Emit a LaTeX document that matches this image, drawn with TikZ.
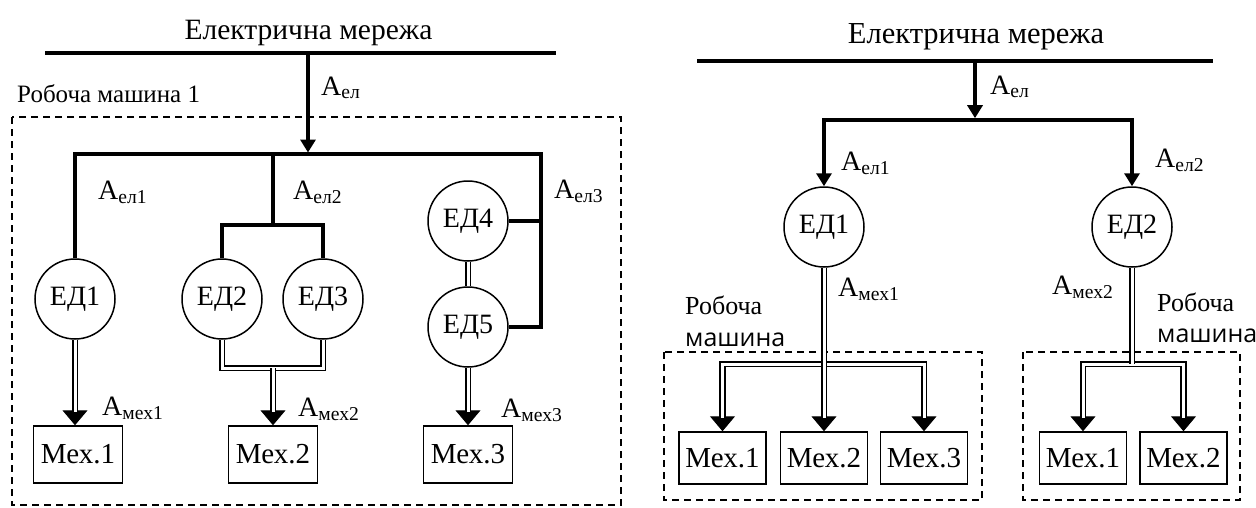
\documentclass[tikz,border=0pt]{standalone}
\usepackage{fontspec}
\setmainfont{Liberation Serif}
\newfontfamily\mashfont{Open Sans}
\usetikzlibrary{arrows.meta}

\begin{document}
\begin{tikzpicture}[x=1pt,y=-1pt]

%
% Styles
%
\tikzstyle{motor} = [circle,draw,line width=1.5pt,minimum size=80pt,inner sep=0pt,font=\fontsize{28}{30}\selectfont]
\tikzstyle{mexbox} = [rectangle,draw,line width=1.5pt,minimum width=89pt,minimum height=57pt,inner sep=0pt,font=\fontsize{29}{31}\selectfont]
\tikzstyle{lbl} = [anchor=base west,inner sep=0pt,font=\fontsize{28}{30}\selectfont]
\tikzstyle{nettitle} = [anchor=base,inner sep=0pt,font=\fontsize{29.5}{32}\selectfont]
\tikzstyle{bus} = [line width=3.6pt]
\tikzstyle{elarrow} = [line width=3.6pt,-{Triangle[width=15pt,length=13pt]}]
\tikzstyle{mech} = [double,line width=1.7pt,double distance=3pt]
\tikzstyle{mechend} = [mech,shorten >=13pt]
\tikzstyle{mtip} = [line width=1pt,-{Triangle[width=25pt,length=15pt]}]
\tikzstyle{machframe} = [dash pattern=on 7pt off 5pt,line width=1.4pt]

\useasboundingbox (0,0) rectangle (1256,507);

%
% Left: one working machine
%
\node[nettitle] (netL) at (308.5,39) {Електрична мережа};
\node[lbl,font=\fontsize{25}{27}\selectfont] (machL) at (17,102) {Робоча машина 1};

\node[motor] (d1) at (75,299)  {ЕД1};
\node[motor] (d2) at (222,299) {ЕД2};
\node[motor] (d3) at (323,299) {ЕД3};
\node[motor] (d4) at (468,221) {ЕД4};
\node[motor] (d5) at (468,327) {ЕД5};
\node[mexbox] (m1) at (78,454.5)  {Мех.1};
\node[mexbox] (m2) at (273,454.5) {Мех.2};
\node[mexbox] (m3) at (468,454.5) {Мех.3};

\node[lbl] (ael)   at (321,95)  {А\textsubscript{ел}};
\node[lbl] (ael1)  at (98,199)  {А\textsubscript{ел1}};
\node[lbl] (ael2)  at (293,199) {А\textsubscript{ел2}};
\node[lbl] (ael3)  at (554,198) {А\textsubscript{ел3}};
\node[lbl] (amex1) at (102,415) {А\textsubscript{мех1}};
\node[lbl] (amex2) at (298,416) {А\textsubscript{мех2}};
\node[lbl] (amex3) at (501,417) {А\textsubscript{мех3}};

\coordinate (netLa) at (45,53);
\coordinate (netLb) at (556,53);
\coordinate (tapL)  at (308,53);
\coordinate (hubL)  at (308,152.5);
\coordinate (cornL) at (541,154);
\coordinate (tapD)  at (273,154);
\coordinate (jD23)  at (273,225);
\coordinate (jM2)   at (273,368);

\draw[machframe] (12,117) rectangle (621,505);

\draw[bus] (netLa) -- (netLb);
\draw[elarrow] (tapL) -- (hubL);
\draw[bus] (d1.north) |- (cornL) |- (d5.east);
\draw[bus] (d4.east) -- (d4.east -| cornL);
\draw[bus] (tapD) -- (jD23);
\draw[bus] (d2.north) |- (jD23) -| (d3.north);

\draw[mtip] (d1.south) -- (d1.south |- m1.north);
\draw[mechend] (d1.south) -- (d1.south |- m1.north);
\draw[mech] (d2.south) |- (jM2) -| (d3.south);
\draw[mtip] (jM2) -- (m2.north);
\draw[mechend] (jM2) -- (m2.north);
\draw[mech] (d4.south) -- (d5.north);
\draw[mtip] (d5.south) -- (m3.north);
\draw[mechend] (d5.south) -- (m3.north);

%
% Right: two working machines
%
\node[nettitle,font=\fontsize{30.5}{33}\selectfont] (netR) at (976,43) {Електрична мережа};

\node[motor] (rd1) at (824,227)  {ЕД1};
\node[motor] (rd2) at (1132,227) {ЕД2};
\node[mexbox,minimum width=87pt,minimum height=52pt] (rm1) at (722.5,458) {Мех.1};
\node[mexbox,minimum width=87pt,minimum height=52pt] (rm2) at (824,458)   {Мех.2};
\node[mexbox,minimum width=87pt,minimum height=52pt] (rm3) at (924,458)   {Мех.3};
\node[mexbox,minimum width=87pt,minimum height=52pt] (rm4) at (1083,458)  {Мех.1};
\node[mexbox,minimum width=87pt,minimum height=52pt] (rm5) at (1183.5,458) {Мех.2};

\node[lbl] (rael)   at (990,94)   {А\textsubscript{ел}};
\node[lbl] (rael1)  at (841,170)  {А\textsubscript{ел1}};
\node[lbl] (rael2)  at (1155,167) {А\textsubscript{ел2}};
\node[lbl] (ramex1) at (838,296)  {А\textsubscript{мех1}};
\node[lbl] (ramex2) at (1052,294) {А\textsubscript{мех2}};

\node[lbl,font=\fontsize{26}{28}\selectfont] (rw1a) at (685,314) {Робоча};
\node[lbl,font=\mashfont\fontsize{25}{27}\selectfont] (rw1b) at (685,346) {машина};
\node[lbl,font=\fontsize{26}{28}\selectfont] (rw2a) at (1157,311) {Робоча};
\node[lbl,font=\mashfont\fontsize{25}{27}\selectfont] (rw2b) at (1157,342) {машина};

\coordinate (netRa) at (697,61);
\coordinate (netRb) at (1213,61);
\coordinate (tapR)  at (975,61);
\coordinate (hubR)  at (975,120);
\coordinate (jR1)   at (824,364);
\coordinate (jR2)   at (1132,364);

\draw[machframe] (664,352) rectangle (982,500);
\draw[machframe] (1023,352) rectangle (1240,500);

\draw[bus] (netRa) -- (netRb);
\draw[elarrow] (tapR) -- ([yshift=1.8pt]hubR);
\draw[elarrow] (hubR) -| (rd1.north);
\draw[elarrow] (hubR) -| (rd2.north);

\draw[mtip] (jR1) -| (rm1.north);
\draw[mechend] (jR1) -| (rm1.north);
\draw[mtip] (jR1) -| (rm3.north);
\draw[mechend] (jR1) -| (rm3.north);
\draw[mtip] (rd1.south) -- (rm2.north);
\draw[mechend] (rd1.south) -- (rm2.north);

\draw[mtip] (jR2) -| (rm4.north);
\draw[mechend] (jR2) -| (rm4.north);
\draw[mtip] (jR2) -| (rm5.north);
\draw[mechend] (jR2) -| (rm5.north);
\draw[mech] (rd2.south) -- (jR2);

\end{tikzpicture}
\end{document}
